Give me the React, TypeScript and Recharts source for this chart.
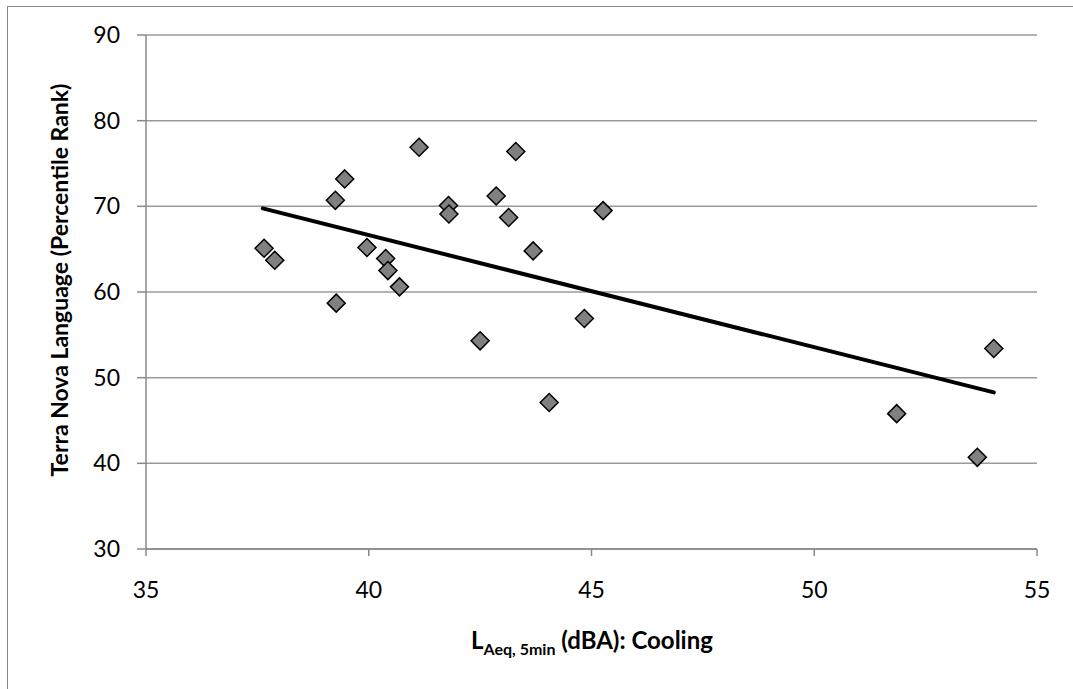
import React from 'react';
import {
  ScatterChart,
  Scatter,
  XAxis,
  YAxis,
  CartesianGrid,
} from 'recharts';

// readings: noise level (dBA) vs. percentile rank
const noiseLevels = [
  37.65, 37.89, 39.46, 39.25, 39.27, 39.96, 40.38, 40.43, 40.69, 41.13, 41.79, 41.8,
  42.86, 43.3, 43.14, 43.69, 42.5, 44.05, 44.84, 45.26, 51.85, 54.03, 53.66,
];
const percentileRanks = [
  65.1, 63.7, 73.2, 70.7, 58.7, 65.2, 63.9, 62.5, 60.6, 76.9, 70.1, 69.1,
  71.2, 76.4, 68.7, 64.8, 54.3, 47.1, 56.9, 69.5, 45.8, 53.4, 40.7,
];
// linear trend line end points
const trendX = [37.62, 54.03];
const trendY = [69.76, 48.28];

const xTicks = [35, 40, 45, 50, 55];
const yTicks = [30, 40, 50, 60, 70, 80, 90];

const points = noiseLevels.map((x, i) => ({ x, y: percentileRanks[i] }));
const trend = trendX.map((x, i) => ({ x, y: trendY[i] }));

const FONT = 'Lato, "Open Sans", sans-serif';

const Diamond = (props: any) => {
  const { cx, cy } = props;
  const r = 9;
  return (
    <polygon
      points={`${cx},${cy - r} ${cx + r},${cy} ${cx},${cy + r} ${cx - r},${cy}`}
      fill="#808080"
      stroke="#000"
      strokeWidth={1.5}
    />
  );
};

const XLabel = () => (
  <text x={592} y={649} textAnchor="middle" fontFamily={FONT} fontWeight={700} fontSize={24} fill="#000">
    L
    <tspan fontSize={16} dy={6}>Aeq, 5min</tspan>
    <tspan dy={-6}> (dBA): Cooling</tspan>
  </text>
);

const YLabel = () => (
  <text
    x={68}
    y={280}
    transform="rotate(-90 68 280)"
    textAnchor="middle"
    fontFamily={FONT}
    fontWeight={700}
    fontSize={23}
    fill="#000"
  >
    Terra Nova Language (Percentile Rank)
  </text>
);

export default function App() {
  return (
    <div style={{ position: 'absolute', left: 0, top: 0, width: 1073, height: 689, background: '#fff', overflow: 'hidden' }}>
      <div
        style={{
          position: 'absolute',
          left: 7,
          top: 6,
          width: 1080,
          height: 700,
          borderLeft: '1.5px solid #888',
          borderTop: '1.5px solid #888',
        }}
      />
      <ScatterChart
        width={1073}
        height={689}
        margin={{ top: 35, right: 36, bottom: 80, left: 0 }}
        style={{ position: 'absolute', left: 0, top: 0 }}
      >
        <CartesianGrid vertical={false} stroke="#9a9a9a" strokeWidth={1.5} />
        <XAxis
          type="number"
          dataKey="x"
          domain={[35, 55]}
          ticks={xTicks}
          height={60}
          tickSize={7}
          tickMargin={26}
          stroke="#888"
          strokeWidth={1.5}
          tick={{ fill: '#000', fontSize: 23, fontFamily: FONT }}
          label={<XLabel />}
        />
        <YAxis
          type="number"
          dataKey="y"
          domain={[30, 90]}
          ticks={yTicks}
          width={146}
          tickSize={9}
          tickMargin={17}
          stroke="#888"
          strokeWidth={1.5}
          tick={{ fill: '#000', fontSize: 23, fontFamily: FONT }}
          label={<YLabel />}
        />
        <Scatter data={points} shape={<Diamond />} isAnimationActive={false} />
        <Scatter
          data={trend}
          line={{ stroke: '#000', strokeWidth: 4, strokeLinecap: 'round' }}
          lineType="joint"
          shape={() => null}
          isAnimationActive={false}
        />
      </ScatterChart>
    </div>
  );
}
